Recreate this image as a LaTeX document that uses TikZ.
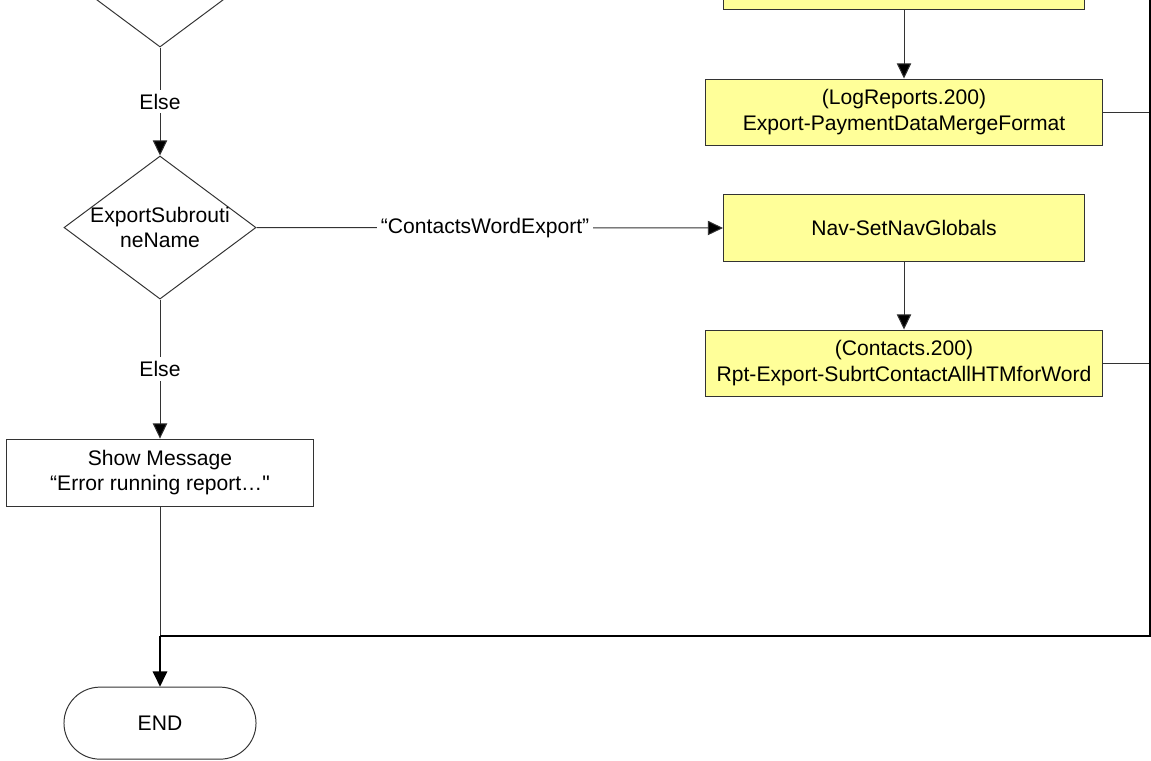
\documentclass[tikz,border=0pt]{standalone}
\usepackage{fontspec}
\setmainfont{Liberation Sans}[Ligatures=TeXOff]
\usepackage{xcolor}
\usepackage{tikz}
\usetikzlibrary{positioning,shapes.geometric,arrows.meta}
\definecolor{procyellow}{RGB}{255,255,153}
\tikzstyle{process}=[rectangle, draw=black!80, fill=procyellow, text centered, align=center,
        minimum height=1.65cm, line width=0.7pt]
\tikzstyle{wideproc}=[process, minimum width=9.9cm]
\tikzstyle{narrowproc}=[process, minimum width=9.025cm]
\tikzstyle{message}=[rectangle, draw=black!80, fill=white, align=center,
        minimum width=7.65cm, minimum height=1.675cm, line width=0.7pt]
\tikzstyle{decision}=[diamond, draw=black!80, inner sep=0pt, minimum width=4.8cm,
        minimum height=3.575cm, line width=0.7pt]
\tikzstyle{terminal}=[rectangle, rounded corners=0.9cm, draw=black!80,
        minimum width=4.8cm, minimum height=1.8cm, line width=0.7pt]
\tikzstyle{myarrow}=[-{Triangle[length=0.38cm,width=0.36cm,fill=black]}, line width=0.7pt, draw=black!80]
\tikzstyle{line}=[-, line width=0.7pt, draw=black!80]
\tikzstyle{joinline}=[line width=1.4pt, draw=black]
\tikzstyle{branch}=[fill=white, inner sep=3pt]

\begin{document}
\begin{tikzpicture}[x=0.025cm, y=-0.025cm, font=\fontsize{15pt}{18pt}\selectfont]
    \useasboundingbox (0,0) rectangle (1151,761);
    \node (Choice) [decision] at (160,-24.5) {};
    \node (SubName) [decision, below=2.7cm of Choice,
        label={[align=center]center:ExportSubrouti\\neName}] {};
    \node (ShowMsg) [message, below=3.475cm of SubName]
        {
            Show Message\\
            “Error running report…"
        };
    \node (End) [terminal, below=4.5cm of ShowMsg] {END};
    \node (TopProc) [narrowproc] at (904,-24) {};
    \node (LogReports) [wideproc, below=1.725cm of TopProc]
        {
            (LogReports.200)\\
            Export-PaymentDataMergeFormat
        };
    \node (NavGlobals) [narrowproc] at (904,228) {Nav-SetNavGlobals};
    \node (Contacts) [wideproc, below=1.7cm of NavGlobals]
        {
            (Contacts.200)\\
            Rpt-Export-SubrtContactAllHTMforWord
        };
    \coordinate (JoinTop) at (1150,-40);
    \coordinate (JoinBot) at (160,636);

    \draw[myarrow] (Choice.south) -- node[branch] {Else} (SubName.north);
    \draw[myarrow] (SubName.south) -- node[branch] {Else} (ShowMsg.north);
    \draw[myarrow] (SubName.east) -- node[branch, pos=0.49] {“ContactsWordExport”} (NavGlobals.west);
    \draw[myarrow] (TopProc.south) -- (LogReports.north);
    \draw[myarrow] (NavGlobals.south) -- (Contacts.north);
    \draw[line] (LogReports.east) -- (LogReports.east -| JoinTop);
    \draw[line] (Contacts.east) -- (Contacts.east -| JoinTop);
    \draw[line] (ShowMsg.south) -- (JoinBot);
    \draw[joinline] (JoinTop) |- (JoinBot);
    \draw[myarrow, line width=1.4pt, draw=black] (JoinBot) -- (End.north);
\end{tikzpicture}
\end{document}
